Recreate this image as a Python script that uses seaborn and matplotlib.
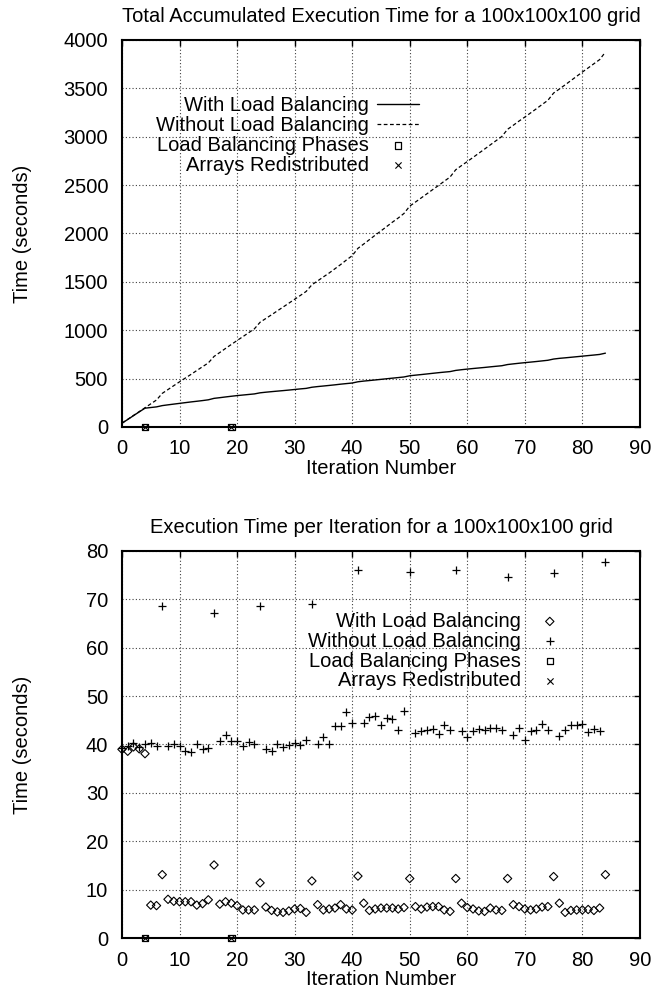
import numpy as np
import pandas as pd
import matplotlib
matplotlib.use("Agg")
import matplotlib.pyplot as plt
import seaborn as sns

# per-iteration execution time (seconds)
iterations = list(range(85))
with_lb = [39.0, 38.6, 39.5, 39.1, 38.1,
           6.8, 6.7, 13.1, 8.0, 7.6, 7.5, 7.5, 7.5, 6.8, 7.1,
           7.9, 15.1, 7.0, 7.5, 7.2, 6.7, 5.8, 5.8, 5.8, 11.4,
           6.4, 5.7, 5.4, 5.3, 5.6, 6.0, 6.1, 5.3, 11.8, 6.9,
           5.8, 6.0, 6.2, 6.9, 6.0, 5.8, 12.8, 7.2, 5.7, 6.0,
           6.2, 6.2, 6.2, 6.0, 6.3, 12.3, 6.5, 6.0, 6.4, 6.5,
           6.5, 5.8, 5.5, 12.3, 7.2, 6.3, 6.0, 5.6, 5.5, 6.2,
           5.8, 5.7, 12.3, 6.9, 6.5, 6.0, 5.8, 6.0, 6.4, 6.5,
           12.7, 7.2, 5.3, 5.7, 5.8, 5.8, 5.9, 5.7, 6.2, 13.1]
without_lb = [39.3, 39.6, 40.3, 39.5, 40.0, 40.4, 39.7, 68.6, 39.6, 40.0,
              39.6, 38.6, 38.4, 40.2, 39.0, 39.2, 67.1, 40.8, 42.0, 40.8,
              40.8, 39.6, 40.6, 40.0, 68.6, 39.0, 38.6, 40.2, 39.5, 39.8,
              40.3, 39.8, 41.0, 69.0, 40.0, 41.5, 40.1, 43.8, 43.9, 46.8,
              44.4, 76.1, 44.4, 45.6, 45.9, 44.1, 45.4, 45.2, 42.9, 47.0,
              75.6, 42.4, 42.7, 42.9, 43.1, 42.2, 44.1, 42.9, 76.1, 42.7,
              41.5, 42.7, 43.2, 42.9, 43.5, 43.5, 43.0, 74.6, 42.0, 43.4,
              41.0, 42.7, 42.9, 44.3, 42.9, 75.4, 41.7, 42.9, 44.1, 44.1,
              44.2, 42.5, 43.3, 42.7, 77.8]
lb_phases = [4, 19]
lb_phase_y = [0, 0]

labels = ["With Load Balancing", "Without Load Balancing",
          "Load Balancing Phases", "Arrays Redistributed"]

per_iter = pd.DataFrame({"it": iterations, "with": with_lb, "without": without_lb})
accum = per_iter.copy()
accum["with"] = per_iter["with"].cumsum()
accum["without"] = per_iter["without"].cumsum()
phases = pd.DataFrame({"it": lb_phases, "y": lb_phase_y})

FS = 14.5

sns.set_style("white")
plt.rcParams["font.family"] = ["Liberation Sans", "DejaVu Sans"]
plt.rcParams["font.size"] = FS
plt.rcParams["text.color"] = "black"
plt.rcParams["axes.labelcolor"] = "black"
plt.rcParams["xtick.color"] = "black"
plt.rcParams["ytick.color"] = "black"

fig = plt.figure(figsize=(6.54, 9.90), dpi=100)
ax1 = fig.add_axes([0.1865, 0.5687, 0.792, 0.391])
ax2 = fig.add_axes([0.1865, 0.0525, 0.792, 0.391])


def style_axes(ax, ymax, ystep):
    ax.set_xlim(0, 90)
    ax.set_ylim(0, ymax)
    ax.set_xticks(range(0, 91, 10))
    ax.set_yticks(range(0, ymax + 1, ystep))
    ax.grid(True, linestyle=(0, (1, 2)), color="0.25", linewidth=0.8)
    ax.set_axisbelow(True)
    for sp in ax.spines.values():
        sp.set_linewidth(1.5)
        sp.set_color("black")
        sp.set_visible(True)
    ax.tick_params(axis="both", direction="in", length=4, width=1,
                   top=True, right=True, labelsize=FS, colors="black")
    ax.tick_params(axis="y", pad=10)
    ax.tick_params(axis="x", pad=9)


def labels_and_title(ax, title):
    ax.set_xlabel("Iteration Number", fontsize=FS, color="black")
    ax.set_ylabel("Time (seconds)", fontsize=FS, color="black")
    ax.xaxis.set_label_coords(0.5, -0.082)
    ax.yaxis.set_label_coords(-0.174, 0.5)
    ax.set_title(title, fontsize=FS, pad=13, color="black")


def phase_markers(ax):
    sns.scatterplot(data=phases, x="it", y="y", marker="s", s=22,
                    facecolor="none", edgecolor="black", linewidth=0.9,
                    label=labels[2], ax=ax, clip_on=False, zorder=5)
    sns.scatterplot(data=phases, x="it", y="y", marker="x", s=20,
                    color="black", linewidth=0.8,
                    label=labels[3], ax=ax, clip_on=False, zorder=5)


def right_legend(ax, anchor):
    leg = ax.legend(loc="upper right", bbox_to_anchor=anchor, frameon=False,
                    markerfirst=False, fontsize=FS, handlelength=2.06,
                    handletextpad=0.4, labelspacing=0.045, borderpad=0,
                    borderaxespad=0, scatterpoints=1, labelcolor="black")
    for col in leg._legend_handle_box.get_children():
        col.align = "right"
    return leg


# top: accumulated time
style_axes(ax1, 4000, 500)
sns.lineplot(data=accum, x="it", y="with", color="black", linewidth=1.0,
             label=labels[0], ax=ax1)
sns.lineplot(data=accum, x="it", y="without", color="black", linewidth=0.9,
             linestyle=(0, (3, 2)), label=labels[1], ax=ax1)
phase_markers(ax1)
labels_and_title(ax1, "Total Accumulated Execution Time for a 100x100x100 grid")
right_legend(ax1, (0.573, 0.855))

# bottom: time per iteration
style_axes(ax2, 80, 10)
sns.scatterplot(data=per_iter, x="it", y="with", marker="D", s=18,
                facecolor="none", edgecolor="black", linewidth=0.8,
                label=labels[0], ax=ax2, clip_on=False, zorder=4)
sns.scatterplot(data=per_iter, x="it", y="without", marker="+", s=40,
                color="black", linewidth=0.9,
                label=labels[1], ax=ax2, clip_on=False, zorder=4)
phase_markers(ax2)
labels_and_title(ax2, "Execution Time per Iteration for a 100x100x100 grid")
right_legend(ax2, (0.866, 0.843))

fig.savefig("out.png", dpi=100)
